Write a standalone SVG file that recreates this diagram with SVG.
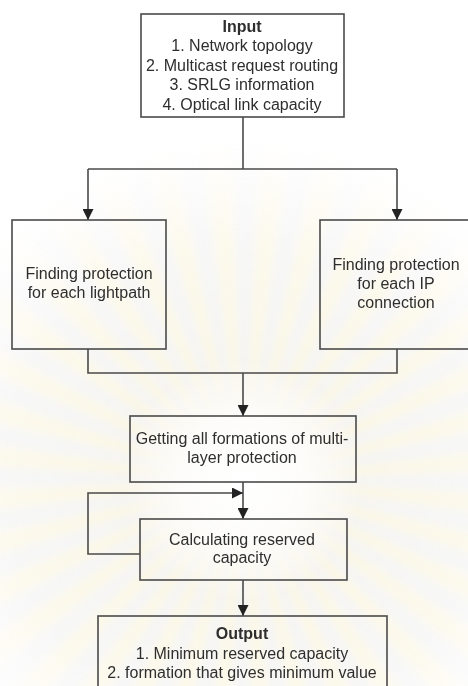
<svg xmlns="http://www.w3.org/2000/svg" width="468" height="686" viewBox="0 0 468 686">
  <style>
    .box { fill: none; stroke: #4a4a4a; stroke-width: 1.6; }
    .wire { fill: none; stroke: #4a4a4a; stroke-width: 1.6; }
    .t { font-family: "Liberation Sans", Arial, sans-serif; font-size: 16px; fill: #2e2e2e; text-anchor: middle; }
    .b { font-weight: bold; }
  </style>
  <defs>
    <marker id="arrow" viewBox="0 0 10 10" refX="10" refY="5" markerWidth="11" markerHeight="11" markerUnits="userSpaceOnUse" orient="auto">
      <path d="M0,0 L10,5 L0,10 Z" fill="#222"/>
    </marker>
    <radialGradient id="fade" cx="243" cy="480" r="340" gradientUnits="userSpaceOnUse">
      <stop offset="0" stop-color="#fff" stop-opacity="0"/>
      <stop offset="0.18" stop-color="#fff" stop-opacity="0.3"/>
      <stop offset="0.35" stop-color="#fff" stop-opacity="1"/>
      <stop offset="0.7" stop-color="#fff" stop-opacity="0.7"/>
      <stop offset="1" stop-color="#fff" stop-opacity="0"/>
    </radialGradient>
    <mask id="fadeMask">
      <rect x="0" y="0" width="468" height="686" fill="url(#fade)"/>
    </mask>
    <filter id="soft" x="-10%" y="-10%" width="120%" height="120%">
      <feGaussianBlur stdDeviation="4"/>
    </filter>
    <!-- one 60-degree sector of the ray fan -->
    <g id="sector">
      <path d="M0,0 L500,0 L498.1,43.6 Z" fill="#f6edc4"/>
      <path d="M0,0 L498.1,43.6 L492.4,86.8 Z" fill="#e6e6e6"/>
      <path d="M0,0 L492.4,86.8 L483,129.4 Z" fill="#f6edc4"/>
      <path d="M0,0 L483,129.4 L469.8,171 Z" fill="#e6e6e6"/>
      <path d="M0,0 L469.8,171 L453.2,211.3 Z" fill="#f6edc4"/>
      <path d="M0,0 L453.2,211.3 L433,250 Z" fill="#e6e6e6"/>
      <path d="M0,0 L433,250 L409.6,286.8 Z" fill="#f6edc4"/>
      <path d="M0,0 L409.6,286.8 L383,321.4 Z" fill="#e6e6e6"/>
      <path d="M0,0 L383,321.4 L353.6,353.6 Z" fill="#f6edc4"/>
      <path d="M0,0 L353.6,353.6 L321.4,383 Z" fill="#e6e6e6"/>
      <path d="M0,0 L321.4,383 L286.8,409.6 Z" fill="#f6edc4"/>
      <path d="M0,0 L286.8,409.6 L250,433 Z" fill="#e6e6e6"/>
    </g>
  </defs>

  <rect x="0" y="0" width="468" height="686" fill="#ffffff"/>

  <!-- faint sunburst seal in the background -->
  <g id="seal" mask="url(#fadeMask)" opacity="0.45">
    <g filter="url(#soft)" transform="translate(243 480) rotate(3)">
      <use href="#sector"/>
      <use href="#sector" transform="rotate(60)"/>
      <use href="#sector" transform="rotate(120)"/>
      <use href="#sector" transform="rotate(180)"/>
      <use href="#sector" transform="rotate(240)"/>
      <use href="#sector" transform="rotate(300)"/>
    </g>
  </g>

  <!-- connectors -->
  <g id="connectors">
    <path class="wire" d="M243,117 V169"/>
    <path class="wire" d="M88,169 H397"/>
    <path class="wire" d="M88,169 V220" marker-end="url(#arrow)"/>
    <path class="wire" d="M397,169 V220" marker-end="url(#arrow)"/>
    <path class="wire" d="M88,349 V373 H397 V349"/>
    <path class="wire" d="M243,373 V416" marker-end="url(#arrow)"/>
    <path class="wire" d="M243,482 V519" marker-end="url(#arrow)"/>
    <path class="wire" d="M140,554 H88 V493 H243" marker-end="url(#arrow)"/>
    <path class="wire" d="M243,580 V616" marker-end="url(#arrow)"/>
  </g>

  <!-- nodes -->
  <g id="input">
    <rect class="box" x="141" y="14" width="203" height="103"/>
    <text class="t b" x="242" y="32">Input</text>
    <text class="t" x="242" y="51">1. Network topology</text>
    <text class="t" x="242" y="71">2. Multicast request routing</text>
    <text class="t" x="242" y="90">3. SRLG information</text>
    <text class="t" x="242" y="110">4. Optical link capacity</text>
  </g>

  <g id="lightpath">
    <rect class="box" x="12" y="220" width="154" height="129"/>
    <text class="t" x="89" y="279">Finding protection</text>
    <text class="t" x="89" y="298">for each lightpath</text>
  </g>

  <g id="ipconn">
    <rect class="box" x="320" y="220" width="156" height="129"/>
    <text class="t" x="396" y="270">Finding protection</text>
    <text class="t" x="396" y="289">for each IP</text>
    <text class="t" x="396" y="308">connection</text>
  </g>

  <g id="formations">
    <rect class="box" x="130" y="416" width="226" height="66"/>
    <text class="t" x="242" y="444">Getting all formations of multi-</text>
    <text class="t" x="242" y="463">layer protection</text>
  </g>

  <g id="calc">
    <rect class="box" x="140" y="519" width="207" height="61"/>
    <text class="t" x="242" y="545">Calculating reserved</text>
    <text class="t" x="242" y="563">capacity</text>
  </g>

  <g id="output">
    <rect class="box" x="98" y="616" width="289" height="90"/>
    <text class="t b" x="242" y="639">Output</text>
    <text class="t" x="242" y="659">1. Minimum reserved capacity</text>
    <text class="t" x="242" y="678">2. formation that gives minimum value</text>
  </g>
</svg>
